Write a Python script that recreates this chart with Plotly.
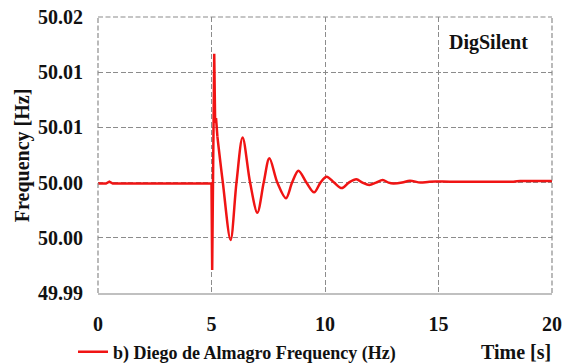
import plotly.graph_objects as go

# Data
# flat start + fault spike (drawn with straight segments)
time_spike = [0, 0.35, 0.5, 0.65, 2.5, 4.9, 5.0, 5.03, 5.07, 5.12, 5.16, 5.2, 5.26]
freq_spike = [50.0019, 50.0019, 50.0021, 50.0019, 50.0019, 50.0019, 50.0019, 49.9925, 50.0040,
              50.0160, 50.0085, 50.0090, 50.0070]
# damped oscillation + flat end (drawn smoothed)
time_osc = [5.26, 5.5, 5.84, 6.1, 6.37, 6.7, 7.02, 7.3, 7.55, 7.9, 8.28, 8.55, 8.83, 9.18, 9.52,
            9.8, 10.07, 10.4, 10.74, 11.05, 11.38, 11.65, 11.95, 12.25, 12.54, 12.8, 13.01, 13.4,
            13.74, 14.2, 14.6, 15.5, 17.0, 18.3, 18.6, 19.3, 20.0]
freq_osc = [50.0070, 50.0020, 49.99576, 50.0020, 50.0069, 50.0020, 49.99873, 50.0020, 50.00464,
            50.0020, 50.0003, 50.0020, 50.00329, 50.0020, 50.00094, 50.0020, 50.00264, 50.0020,
            50.00140, 50.0020, 50.00236, 50.0020, 50.00174, 50.0020, 50.00228, 50.0020, 50.0019,
            50.0020, 50.00221, 50.0020, 50.0021, 50.0021, 50.0021, 50.0021, 50.00217, 50.00217,
            50.00217]

x_ticks = [0, 5, 10, 15, 20]
y_tickvals = [49.99, 49.996, 50.002, 50.008, 50.014, 50.02]
y_ticktext = ["49.99", "50.00", "50.00", "50.01", "50.01", "50.02"]

series_name = "b) Diego de Almagro Frequency (Hz)"

FONT = '"Liberation Serif", "Times New Roman", serif'
RED = "#f01414"
GRID = "#8c8c8c"
DASH = "5px,2.5px"

fig = go.Figure()
fig.add_trace(go.Scatter(
    x=time_spike, y=freq_spike, mode="lines", name=series_name, legendgroup="f",
    line=dict(color=RED, width=2.5),
))
fig.add_trace(go.Scatter(
    x=time_osc, y=freq_osc, mode="lines", name=series_name, legendgroup="f", showlegend=False,
    line=dict(color=RED, width=2.5, shape="spline", smoothing=0.9),
))

fig.update_layout(
    width=572, height=364,
    margin=dict(l=98, r=20, t=17, b=71),
    paper_bgcolor="white", plot_bgcolor="white",
    font=dict(family=FONT, color="#111111"),
    showlegend=True,
    legend=dict(xref="container", yref="container", x=73 / 572, y=(364 - 352) / 364,
                xanchor="left", yanchor="middle",
                orientation="h", bgcolor="rgba(0,0,0,0)",
                font=dict(family=FONT, size=18, weight="bold", color="#111111")),
    xaxis=dict(range=[0, 20], tickvals=x_ticks, showgrid=True, gridcolor=GRID,
               griddash=DASH, gridwidth=1.2, showline=True, linecolor="#c0c0c0", linewidth=2,
               zeroline=False, ticks="", ticklabelstandoff=12, automargin=False,
               tickfont=dict(family=FONT, size=20, weight="bold", color="#111111")),
    yaxis=dict(range=[49.99, 50.02], tickvals=y_tickvals, ticktext=y_ticktext, showgrid=True,
               gridcolor=GRID, griddash=DASH, gridwidth=1.2, showline=False,
               zeroline=False, ticks="", ticklabelstandoff=14, automargin=False,
               tickfont=dict(family=FONT, size=20, weight="bold", color="#111111")),
    annotations=[
        dict(text="DigSilent", x=(488 - 98) / 454, y=(293 - 43) / 276, xref="paper", yref="paper",
             xanchor="center", yanchor="middle", showarrow=False,
             font=dict(family=FONT, size=20, weight="bold", color="#111111")),
        dict(text="Time [s]", x=(553 - 98) / 454, y=(293 - 352) / 276, xref="paper", yref="paper",
             xanchor="right", yanchor="middle", showarrow=False,
             font=dict(family=FONT, size=20, weight="bold", color="#111111")),
        dict(text="Frequency [Hz]", x=-0.167, y=0.5, xref="paper", yref="paper", textangle=-90,
             xanchor="center", yanchor="middle", showarrow=False,
             font=dict(family=FONT, size=20, weight="bold", color="#111111")),
    ],
    shapes=[
        dict(type="line", xref="paper", yref="paper", x0=0, x1=1, y0=1, y1=1,
             line=dict(color=GRID, width=1.2, dash=DASH)),
        dict(type="line", xref="paper", yref="paper", x0=0, x1=0, y0=0, y1=1,
             line=dict(color=GRID, width=1.2, dash=DASH)),
        dict(type="line", xref="paper", yref="paper", x0=1, x1=1, y0=0, y1=1,
             line=dict(color=GRID, width=1.2, dash=DASH)),
    ],
)

fig.write_html("out.html", config={"displayModeBar": False},
               post_script="document.body.style.margin='0px';document.body.style.overflow='hidden';")
